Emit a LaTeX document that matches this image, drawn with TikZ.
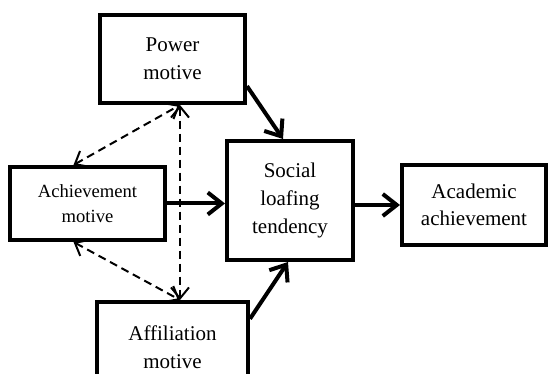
\documentclass[tikz,border=0pt]{standalone}
\usepackage{fontspec}
\setmainfont{Liberation Serif}
\usetikzlibrary{arrows.meta}

\tikzset{
  box/.style={draw,line width=2pt,align=center,inner sep=0pt,
    font=\fontsize{10.5}{13.8}\selectfont},
  main/.style={line width=2pt,-{Straight Barb[length=7pt,width=11pt]}},
  corr/.style={line width=1pt,dash pattern=on 4pt off 2.5pt,
    {Straight Barb[length=5.5pt,width=9pt]}-{Straight Barb[length=5.5pt,width=9pt]}}
}

\begin{document}
\begin{tikzpicture}[x=0.5pt,y=-0.5pt]
        \useasboundingbox (0,0) rectangle (548,374);

        % motives
        \node[box,minimum width=72.5pt,minimum height=44pt] (power) at (172.5,59) {Power\\motive};
        \node[box,minimum width=77.5pt,minimum height=36.5pt,
          font=\fontsize{9.3}{12.5}\selectfont] (achieve) at (87.5,203.5) {Achievement\\motive};
        \node[box,minimum width=75.5pt,minimum height=45pt] (affil) at (172.5,347) {Affiliation\\motive};

        % mediator and outcome
        \node[box,minimum width=63pt,minimum height=59.5pt] (loaf) at (290,200.5) {Social\\loafing\\tendency};
        \node[box,minimum width=72pt,minimum height=40pt] (acad) at (474,205) {Academic\\achievement};

        % paths
        \draw[main] (power.-20) -- ([xshift=-3.5pt]loaf.north);
        \draw[main] (achieve.east) -- (loaf.west |- achieve.east);
        \draw[main] (affil.20) -- ([xshift=-1pt]loaf.south);
        \draw[main] (loaf.east |- acad.west) -- (acad.west);

        % correlations
        \draw[corr] ([xshift=3.75pt]power.south) -- ([xshift=3.75pt]affil.north);
        \draw[corr] ([xshift=-7pt]achieve.north) -- ([xshift=3.75pt]power.south);
        \draw[corr] ([xshift=-7pt]achieve.south) -- ([xshift=3.75pt]affil.north);
    \end{tikzpicture}
\end{document}
